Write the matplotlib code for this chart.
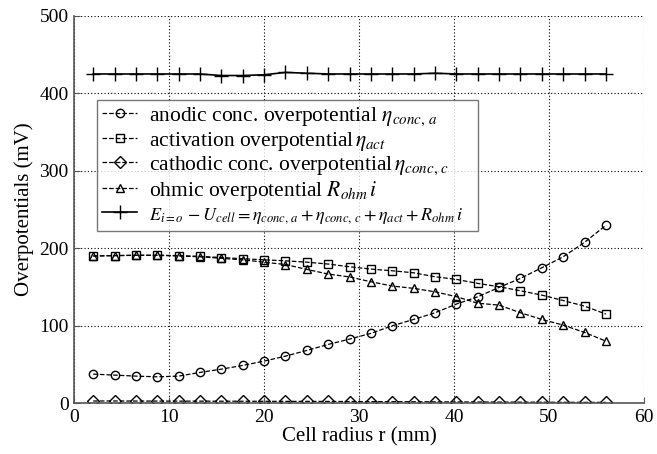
import matplotlib
matplotlib.use("Agg")
import matplotlib.pyplot as plt

# cell radius (mm), 25 points
radius = [2.0, 4.25, 6.5, 8.75, 11.0, 13.25, 15.5, 17.75, 20.0, 22.25, 24.5, 26.75, 29.0,
          31.25, 33.5, 35.75, 38.0, 40.25, 42.5, 44.75, 47.0, 49.25, 51.5, 53.75, 56.0]

eta_conc_a = [37.5, 36.2, 34.9, 34.0, 34.9, 39.7, 43.9, 48.7, 54.3, 60.7, 68.1, 75.8, 82.7,
              90.1, 99.9, 108.1, 116.7, 127.9, 137.3, 149.5, 161.1, 174.8, 189.0, 207.6, 229.6]
eta_act = [190.0, 190.5, 191.0, 191.0, 190.5, 189.5, 188.0, 186.5, 185.0, 183.8, 182.0, 179.6,
           176.1, 173.1, 170.9, 168.3, 163.2, 159.8, 154.6, 150.3, 145.1, 139.5, 132.5, 125.3, 115.0]
eta_conc_c = [2.8, 2.8, 2.7, 2.7, 2.6, 2.6, 2.5, 2.5, 2.4, 2.3, 2.3, 2.2, 2.1,
              2.0, 1.9, 1.8, 1.7, 1.6, 1.5, 1.4, 1.3, 1.2, 1.1, 1.0, 1.0]
ohmic = [190.0, 190.5, 190.8, 190.8, 190.0, 189.0, 187.0, 185.0, 182.0, 179.0, 172.7, 166.7,
         163.0, 156.7, 151.2, 148.2, 143.8, 137.5, 129.0, 126.6, 116.7, 108.1, 100.8, 91.3, 80.1]
total = [425, 425, 425, 425, 425, 425, 423, 423, 424, 427, 426, 425, 425,
         425, 425, 425, 426, 425, 425, 425, 425, 425, 425, 425, 425]

plt.rcParams["font.family"] = "Liberation Serif"
plt.rcParams["mathtext.fontset"] = "stix"

fig = plt.figure(figsize=(6.57, 4.54), dpi=100)
ax = fig.add_axes([0.113, 0.112, 0.867, 0.853])

mk = dict(color="black", lw=0.9, markersize=6, markerfacecolor="none",
          markeredgecolor="black", markeredgewidth=1.0)
ax.plot(radius, eta_conc_a, "o--", label=r"anodic conc. overpotential $\eta_{conc,\,a}$", **mk)
ax.plot(radius, eta_act, "s--", label=r"activation overpotential$\,\eta_{act}$", **mk)
ax.plot(radius, eta_conc_c, "D--", label=r"cathodic conc. overpotential$\,\eta_{conc,\,c}$",
        **{**mk, "markersize": 6})
ax.plot(radius, ohmic, "^--", label=r"ohmic overpotential $R_{ohm}\,i$", **mk)
ax.plot(radius, total, "+-", color="black", lw=1.2, markersize=10, markeredgewidth=1.0,
        label=r"$E_{i=o}\,-U_{cell}=\eta_{conc,\,a}+\eta_{conc,\,c}+\eta_{act}+R_{ohm}\,i$")

ax.set_xlim(0, 60)
ax.set_ylim(0, 500)
ax.set_xticks(range(0, 61, 10))
ax.set_yticks(range(0, 501, 100))
ax.grid(True, linestyle=(0, (1, 2)), color="black", lw=0.8)

for s in ["top", "right"]:
    ax.spines[s].set_visible(False)
for s in ["left", "bottom"]:
    ax.spines[s].set_color("#555555")
    ax.spines[s].set_linewidth(1.2)
ax.tick_params(direction="in", length=4, color="#555555", labelsize=14, pad=4)

ax.set_xlabel("Cell radius r (mm)", fontsize=15, labelpad=1)
ax.set_ylabel("Overpotentials (mV)", fontsize=15, labelpad=4)

leg = ax.legend(loc="upper left", bbox_to_anchor=(0.04, 0.46, 0.669, 0.322), mode="expand",
                fontsize=15.5, frameon=True, fancybox=False, edgecolor="#555555",
                handlelength=1.6, borderpad=0.25, labelspacing=0.08, handletextpad=0.55,
                borderaxespad=0)
leg.get_frame().set_linewidth(1.0)
leg.get_texts()[4].set_fontsize(13)

fig.savefig("out.png", dpi=100)
